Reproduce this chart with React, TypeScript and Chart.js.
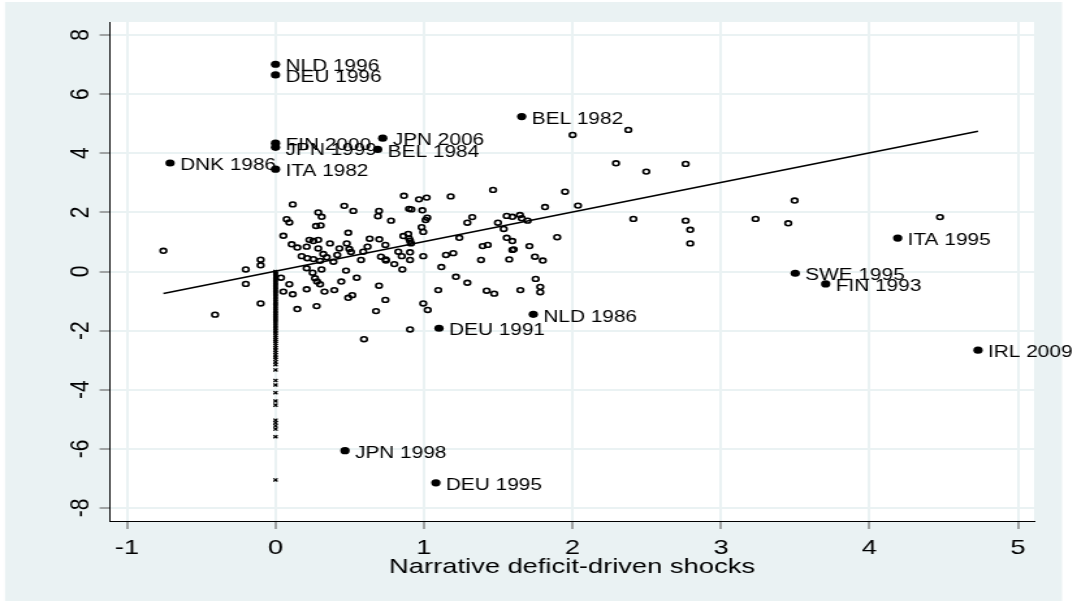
import React, { useEffect, useRef } from "react";
import { Chart, registerables } from "chart.js";

Chart.register(...registerables);

// ---------- data ----------
const xTicks = [-1, 0, 1, 2, 3, 4, 5];
const yTicks = [-8, -6, -4, -2, 0, 2, 4, 6, 8];
const xTitle = "Narrative deficit-driven shocks";

// hollow circles: non-zero narrative shocks
const circleX = [
  -0.755, -0.407, -0.2, -0.2, -0.1, -0.1, -0.1, 0.116, 0.075, 0.093, 0.053, 0.288, 0.311, 0.273, 0.304,
  0.463, 0.49, 0.109, 0.147, 0.21, 0.228, 0.255, 0.288, 0.367, 0.43, 0.48, 0.176, 0.214, 0.255, 0.288,
  0.322, 0.345, 0.416, 0.39, 0.3, 0.21, 0.25, 0.31, 0.266, 0.28, 0.037, 0.093, 0.053, 0.116, 0.21,
  0.3, 0.33, 0.396, 0.443, 0.475, 0.49, 0.147, 0.277,
  0.524, 0.865, 0.966, 1.018, 1.18, 1.465, 1.95, 2.037, 1.815, 0.697, 0.69, 0.778, 0.899, 0.915, 0.989,
  1.022, 1.011, 0.984, 0.995, 1.325, 1.292, 1.498, 1.557, 1.595, 1.646, 1.658, 1.698, 1.537, 0.634,
  0.699, 0.861, 0.894, 0.899, 0.74, 0.827, 0.62, 0.591, 0.497, 0.508, 0.576, 0.906, 0.912, 0.906, 0.85,
  0.906, 0.71, 0.742, 0.744, 0.8, 0.854, 0.995, 1.238, 1.148, 1.197, 1.395, 1.429, 1.384, 1.117, 1.557,
  1.595, 1.595, 1.604, 1.574, 1.71, 1.747, 1.8, 1.897, 0.547, 0.697, 0.74, 0.677, 0.517, 0.995, 1.025,
  0.906, 0.596, 1.096, 1.215, 1.292, 1.422, 1.473, 1.649, 1.752, 1.783, 1.783,
  2.001, 2.376, 2.293, 2.497, 2.762, 2.41, 2.762, 2.793, 2.793, 3.233, 3.496, 3.453, 4.475,
];
const circleY = [
  0.7, -1.46, 0.07, -0.42, 0.4, 0.21, -1.08, 2.27, 1.77, 1.66, 1.21, 2.0, 1.85, 1.54, 1.56,
  2.22, 1.31, 0.92, 0.81, 0.84, 1.07, 1.03, 1.07, 0.95, 0.78, 0.95, 0.52, 0.45, 0.42, 0.78,
  0.59, 0.48, 0.56, 0.33, 0.36, 0.11, -0.04, 0.07, -0.23, -0.34, -0.21, -0.43, -0.68, -0.77, -0.6,
  -0.43, -0.68, -0.63, -0.34, 0.03, -0.89, -1.27, -1.17,
  2.05, 2.56, 2.44, 2.5, 2.54, 2.76, 2.7, 2.23, 2.18, 2.05, 1.87, 1.72, 2.12, 2.1, 2.07,
  1.82, 1.74, 1.5, 1.34, 1.84, 1.65, 1.65, 1.88, 1.85, 1.91, 1.8, 1.72, 1.44, 1.11,
  1.09, 1.2, 1.27, 1.12, 0.9, 0.67, 0.84, 0.67, 0.76, 0.66, 0.39, 1.04, 0.95, 0.65, 0.52,
  0.39, 0.5, 0.41, 0.37, 0.25, 0.07, 0.52, 1.14, 0.56, 0.62, 0.86, 0.9, 0.39, 0.15, 1.14,
  1.03, 0.73, 0.75, 0.41, 0.86, 0.5, 0.37, 1.16, -0.21, -0.48, -0.96, -1.34, -0.8, -1.08, -1.3,
  -1.96, -2.29, -0.63, -0.18, -0.38, -0.65, -0.75, -0.63, -0.25, -0.52, -0.7,
  4.62, 4.79, 3.66, 3.38, 3.64, 1.78, 1.72, 1.41, 0.95, 1.78, 2.4, 1.63, 1.84,
];

// small crosses: observations with zero narrative shock
const zeroShockY = [
  0, -0.02, -0.05, -0.08, -0.1, -0.13, -0.15, -0.19, -0.22, -0.24, -0.27, -0.31, -0.35, -0.38, -0.4,
  -0.44, -0.47, -0.5, -0.54, -0.58, -0.61, -0.63, -0.67, -0.72, -0.75, -0.79, -0.83, -0.86, -0.9,
  -0.95, -1.0, -1.03, -1.07, -1.12, -1.16, -1.2, -1.25, -1.3, -1.34, -1.39, -1.43, -1.48, -1.52,
  -1.57, -1.62, -1.66, -1.71, -1.77, -1.82, -1.88, -1.93, -1.99, -2.05, -2.1, -2.17, -2.23, -2.3,
  -2.36, -2.43, -2.5, -2.58, -2.66, -2.74, -2.82, -2.9, -2.97, -3.06, -3.15, -3.33, -3.69, -3.84,
  -4.1, -4.38, -4.52, -5.03, -5.12, -5.22, -5.33, -5.59, -7.05,
];

// labelled observations
const labelNames = [
  "NLD 1996", "DEU 1996", "FIN 2000", "JPN 1999", "ITA 1982", "DNK 1986", "JPN 2006", "BEL 1984",
  "BEL 1982", "ITA 1995", "SWE 1995", "FIN 1993", "NLD 1986", "DEU 1991", "IRL 2009", "JPN 1998", "DEU 1995",
];
const labelX = [0, 0, 0, 0, 0, -0.71, 0.722, 0.688, 1.658, 4.19, 3.5, 3.705, 1.736, 1.101, 4.731, 0.468, 1.08];
const labelY = [7.01, 6.65, 4.34, 4.2, 3.46, 3.67, 4.51, 4.13, 5.24, 1.13, -0.06, -0.42, -1.45, -1.92, -2.66, -6.06, -7.15];

// fitted line
const fitIntercept = 0.01;
const fitSlope = 1.0;
const fitXStart = -0.755;
const fitXEnd = 4.731;

const X_MIN = -1.1145;
const X_MAX = 5.108;
const Y_MIN = -8.44;
const Y_MAX = 8.44;

// ---------- geometry ----------
const OUT_W = 1077;
const OUT_H = 601;
const W = 828;
const H = 601;
const S = OUT_W / W;
const BG = "#eaf2f3";
const FONT = '"Liberation Sans", Arial, Helvetica, sans-serif';

export default function App() {
  const ref = useRef<HTMLCanvasElement>(null);

  useEffect(() => {
    const canvas = ref.current!;
    canvas.width = W;
    canvas.height = H;

    const bgPlugin = {
      id: "bgPlugin",
      beforeDraw(chart: any) {
        const ctx = chart.ctx;
        const a = chart.chartArea;
        ctx.save();
        ctx.fillStyle = "#ffffff";
        ctx.fillRect(0, 0, W, H);
        ctx.fillStyle = BG;
        ctx.fillRect(5 / S, 2, 1062 / S - 5 / S, H - 2);
        ctx.fillStyle = "#ffffff";
        ctx.fillRect(a.left, a.top, a.right - a.left, a.bottom - a.top);
        ctx.restore();
      },
    };

    const textPlugin = {
      id: "textPlugin",
      afterDraw(chart: any) {
        const ctx = chart.ctx;
        const xs = chart.scales.x;
        const ys = chart.scales.y;
        const a = chart.chartArea;
        ctx.save();
        ctx.fillStyle = "#000";
        ctx.font = `21px ${FONT}`;
        ctx.textAlign = "center";
        ctx.textBaseline = "alphabetic";
        xTicks.forEach((v) => {
          ctx.fillText(String(v), xs.getPixelForValue(v), 554);
        });
        ctx.fillText(xTitle, (a.left + a.right) / 2, 573);
        yTicks.forEach((v) => {
          ctx.save();
          ctx.translate(68.3, ys.getPixelForValue(v));
          ctx.rotate(-Math.PI / 2);
          ctx.fillText(String(v), 0, 0);
          ctx.restore();
        });
        // point labels
        const meta = chart.getDatasetMeta(0);
        ctx.font = `16px ${FONT}`;
        ctx.textAlign = "left";
        meta.data.forEach((el: any, i: number) => {
          ctx.fillText(labelNames[i], el.x + 7.7, el.y + 7.2);
        });
        ctx.restore();
      },
    };

    const gridCommon = {
      color: BG,
      lineWidth: 2,
      tickColor: "#555",
      tickLength: 8,
      tickWidth: 1,
      drawTicks: true,
    };

    const chart = new Chart(canvas, {
      type: "scatter",
      data: {
        datasets: [
          {
            label: "labelled",
            data: labelX.map((x, i) => ({ x, y: labelY[i] })),
            pointStyle: "circle",
            pointRadius: 3.6,
            backgroundColor: "#000",
            borderColor: "#000",
            borderWidth: 0,
          },
          {
            label: "shocks",
            data: circleX.map((x, i) => ({ x, y: circleY[i] })),
            pointStyle: "circle",
            pointRadius: 2.4,
            borderWidth: 1.6,
            borderColor: "#000",
            backgroundColor: "rgba(0,0,0,0)",
          },
          {
            label: "zero",
            data: zeroShockY.map((y) => ({ x: 0, y })),
            pointStyle: "crossRot",
            pointRadius: 2.2,
            borderWidth: 1.3,
            borderColor: "#000",
            backgroundColor: "#000",
          },
          {
            label: "fit",
            data: [
              { x: fitXStart, y: fitIntercept + fitSlope * fitXStart },
              { x: fitXEnd, y: fitIntercept + fitSlope * fitXEnd },
            ],
            showLine: true,
            pointRadius: 0,
            borderColor: "#000",
            borderWidth: 1.6,
          },
        ],
      },
      options: {
        responsive: false,
        animation: false,
        devicePixelRatio: 1,
        events: [],
        layout: { padding: { left: 0, right: (OUT_W - 1034) / S, top: 22, bottom: 0 } },
        plugins: { legend: { display: false }, tooltip: { enabled: false } },
        scales: {
          x: {
            type: "linear",
            min: X_MIN,
            max: X_MAX,
            afterBuildTicks: (s: any) => {
              s.ticks = xTicks.map((v) => ({ value: v }));
            },
            afterFit: (s: any) => {
              s.height = 80;
            },
            grid: gridCommon,
            border: { display: true, color: "#000", width: 1 },
            ticks: { display: false },
          },
          y: {
            type: "linear",
            min: Y_MIN,
            max: Y_MAX,
            afterBuildTicks: (s: any) => {
              s.ticks = yTicks.map((v) => ({ value: v }));
            },
            afterFit: (s: any) => {
              s.width = 110 / S;
            },
            grid: gridCommon,
            border: { display: true, color: "#000", width: 1 },
            ticks: { display: false },
          },
        },
      },
      plugins: [bgPlugin, textPlugin],
    } as any);

    return () => chart.destroy();
  }, []);

  return (
    <div style={{ position: "absolute", left: 0, top: 0, width: OUT_W, height: OUT_H, background: "#fff" }}>
      <canvas
        ref={ref}
        width={W}
        height={H}
        style={{ width: OUT_W + "px", height: OUT_H + "px", display: "block" }}
      />
    </div>
  );
}
